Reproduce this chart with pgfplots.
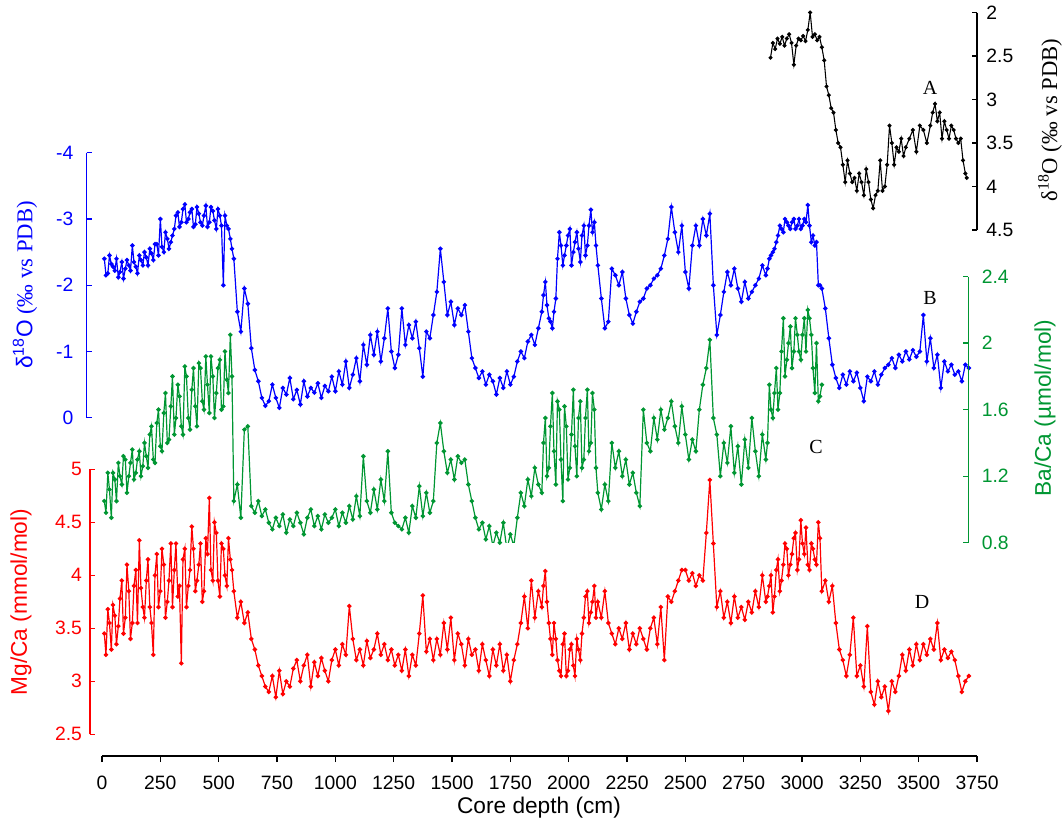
\documentclass[border=0pt]{standalone}
\usepackage{fontspec}
\setmainfont{Liberation Serif}
\setsansfont{Liberation Sans}
\usepackage{pgfplots}
\usepackage{pgfplotstable}
\pgfplotsset{compat=1.18}
\definecolor{cblue}{RGB}{0,0,255}
\definecolor{cgreen}{RGB}{0,150,50}
\definecolor{cred}{RGB}{255,0,0}

\pgfplotstableread{
d b g r
10 -2.40 1.05 3.45
17 -2.15 0.98 3.25
25 -2.18 1.22 3.68
32 -2.45 1.12 3.55
40 -2.32 0.95 3.30
47 -2.28 1.22 3.72
55 -2.22 1.18 3.62
62 -2.40 1.05 3.35
70 -2.12 1.28 3.52
77 -2.20 1.20 3.78
85 -2.35 1.15 3.95
92 -2.10 1.32 3.45
100 -2.25 1.30 3.60
107 -2.38 1.10 4.10
115 -2.30 1.20 3.85
122 -2.22 1.28 3.40
130 -2.60 1.36 3.55
137 -2.35 1.18 3.90
145 -2.28 1.22 4.05
152 -2.18 1.30 3.55
160 -2.45 1.35 4.33
167 -2.38 1.20 3.88
175 -2.30 1.26 3.70
182 -2.50 1.40 3.60
190 -2.42 1.32 3.95
197 -2.30 1.25 4.15
205 -2.55 1.45 3.70
212 -2.48 1.50 3.55
220 -2.38 1.30 3.25
227 -2.62 1.28 4.00
235 -2.62 1.52 4.20
242 -2.45 1.60 3.70
250 -3.00 1.38 3.85
257 -2.58 1.35 4.25
265 -2.50 1.58 4.10
272 -2.80 1.70 3.60
280 -2.70 1.40 3.75
287 -2.55 1.42 3.95
295 -2.65 1.62 4.30
302 -2.75 1.80 3.70
310 -2.85 1.45 4.05
317 -3.05 1.55 4.30
325 -3.10 1.75 3.80
332 -2.88 1.68 3.90
340 -2.95 1.50 3.17
347 -3.15 1.45 4.15
355 -3.22 1.86 4.25
362 -2.95 1.80 3.70
370 -3.00 1.55 3.90
377 -3.10 1.48 4.05
385 -3.15 1.72 4.46
392 -2.88 1.85 4.25
400 -2.92 1.62 3.85
407 -3.18 1.50 3.95
415 -3.08 1.88 4.10
422 -2.95 1.85 4.30
430 -2.90 1.65 3.75
437 -3.05 1.60 3.85
445 -3.20 1.92 4.35
452 -2.88 1.75 4.20
460 -2.95 1.58 4.73
467 -3.18 1.92 4.05
475 -3.12 1.80 3.95
482 -2.98 1.55 4.50
490 -2.85 1.70 4.40
497 -3.15 1.85 3.95
505 -3.05 1.90 3.80
512 -2.90 1.60 4.30
520 -2.00 1.62 4.25
527 -3.05 1.95 4.00
535 -2.90 1.78 3.90
542 -2.85 1.70 4.35
550 -2.70 2.05 4.15
557 -2.55 1.80 4.05
565 -2.40 1.05 3.85
580 -1.60 1.15 3.60
595 -1.30 0.95 3.75
610 -1.95 1.48 3.55
625 -1.72 1.50 3.65
640 -1.05 1.02 3.40
655 -0.72 0.98 3.30
670 -0.55 1.05 3.15
685 -0.30 0.96 3.05
700 -0.18 1.00 2.95
715 -0.25 0.92 2.90
730 -0.50 0.88 3.05
745 -0.30 0.95 2.85
760 -0.15 0.90 3.10
775 -0.45 0.97 2.88
790 -0.35 0.86 3.00
805 -0.60 0.94 2.95
820 -0.28 0.90 3.12
835 -0.42 0.98 3.20
850 -0.20 0.92 3.00
865 -0.55 0.85 3.15
880 -0.32 0.95 3.25
895 -0.45 1.00 2.95
910 -0.38 0.90 3.18
925 -0.52 0.96 3.05
940 -0.30 0.88 3.22
955 -0.48 0.97 3.10
970 -0.40 0.92 3.00
985 -0.62 0.95 3.20
1000 -0.40 1.00 3.30
1015 -0.70 0.90 3.15
1030 -0.50 0.98 3.35
1045 -0.85 0.92 3.25
1060 -0.45 1.02 3.71
1075 -0.65 0.94 3.40
1090 -0.90 1.08 3.20
1105 -0.55 0.96 3.30
1120 -1.10 1.32 3.15
1135 -0.80 1.05 3.38
1150 -1.25 0.98 3.22
1165 -0.95 1.12 3.30
1180 -1.30 1.00 3.45
1195 -0.85 1.18 3.25
1210 -1.20 1.05 3.35
1225 -1.65 1.35 3.20
1240 -1.00 0.98 3.30
1255 -0.75 0.92 3.15
1270 -0.95 0.90 3.25
1285 -1.65 0.88 3.10
1300 -1.10 0.95 3.30
1315 -1.40 0.86 3.05
1330 -1.20 1.02 3.25
1345 -1.45 0.95 3.15
1360 -1.05 1.14 3.45
1375 -0.62 0.96 3.81
1390 -1.30 1.10 3.28
1405 -1.20 0.98 3.40
1420 -1.55 1.05 3.20
1435 -1.90 1.40 3.40
1450 -2.55 1.52 3.25
1465 -2.05 1.35 3.55
1480 -1.55 1.22 3.30
1495 -1.75 1.30 3.60
1510 -1.40 1.18 3.20
1525 -1.65 1.32 3.45
1540 -1.55 1.28 3.35
1555 -1.70 1.30 3.15
1570 -1.30 1.15 3.40
1585 -0.90 1.05 3.25
1600 -0.75 0.95 3.30
1615 -0.60 0.88 3.10
1630 -0.70 0.92 3.35
1645 -0.50 0.82 3.20
1660 -0.65 0.90 3.05
1675 -0.55 0.78 3.30
1690 -0.35 0.86 3.15
1705 -0.60 0.80 3.35
1720 -0.45 0.92 3.10
1735 -0.70 0.76 3.25
1750 -0.50 0.85 3.00
1765 -0.62 0.78 3.20
1780 -0.85 0.95 3.35
1795 -1.00 1.10 3.55
1810 -0.90 1.02 3.80
1825 -1.15 1.18 3.50
1840 -1.25 1.08 3.95
1855 -1.10 1.25 3.60
1870 -1.35 1.15 3.85
1885 -1.60 1.10 3.70
1892 -1.85 1.40 3.90
1900 -2.05 1.55 4.04
1907 -1.70 1.20 3.75
1915 -1.50 1.25 3.55
1922 -1.45 1.50 3.40
1930 -1.35 1.70 3.25
1937 -1.60 1.35 3.55
1945 -1.80 1.15 3.40
1952 -2.40 1.65 3.20
1960 -2.80 1.60 3.10
1967 -2.60 1.30 3.05
1975 -2.30 1.05 3.35
1982 -2.45 1.62 3.45
1990 -2.60 1.50 3.05
1997 -2.75 1.18 3.10
2005 -2.85 1.25 3.30
2012 -2.30 1.45 3.35
2020 -2.50 1.72 3.15
2027 -2.65 1.38 3.05
2035 -2.80 1.20 3.40
2042 -2.55 1.55 3.30
2050 -2.35 1.65 3.20
2057 -2.75 1.25 3.45
2065 -2.90 1.30 3.60
2072 -2.45 1.55 3.80
2080 -2.60 1.72 3.85
2087 -2.90 1.35 3.55
2095 -3.14 1.40 3.65
2102 -2.80 1.70 3.75
2110 -2.95 1.60 3.90
2117 -2.60 1.25 3.60
2125 -2.30 1.10 3.75
2140 -1.80 1.00 3.60
2155 -1.35 1.15 3.85
2170 -1.45 1.05 3.55
2185 -2.25 1.40 3.45
2200 -2.15 1.25 3.35
2215 -2.00 1.35 3.50
2230 -2.20 1.20 3.40
2245 -1.80 1.30 3.55
2260 -1.55 1.15 3.30
2275 -1.42 1.22 3.45
2290 -1.60 1.10 3.35
2305 -1.75 1.02 3.50
2320 -1.80 1.60 3.40
2335 -1.95 1.40 3.30
2350 -2.00 1.35 3.50
2365 -2.10 1.55 3.60
2380 -2.15 1.42 3.35
2395 -2.25 1.60 3.70
2410 -2.45 1.48 3.20
2425 -2.70 1.55 3.80
2440 -3.18 1.65 3.75
2455 -2.80 1.50 3.85
2470 -2.50 1.40 3.95
2485 -2.90 1.62 4.05
2500 -2.20 1.45 4.05
2515 -1.95 1.30 3.95
2530 -2.60 1.42 4.02
2545 -2.90 1.35 3.90
2560 -2.60 1.60 4.00
2575 -3.00 1.75 3.95
2590 -2.75 1.85 4.40
2605 -3.08 2.02 4.90
2620 -2.00 1.55 4.30
2635 -1.25 1.45 3.70
2650 -1.55 1.20 3.85
2665 -1.90 1.40 3.60
2680 -2.20 1.28 3.75
2695 -2.00 1.50 3.55
2710 -2.25 1.22 3.80
2725 -1.95 1.38 3.60
2740 -1.75 1.15 3.70
2755 -2.05 1.42 3.58
2770 -1.80 1.25 3.75
2785 -1.90 1.55 3.65
2800 -2.00 1.35 3.85
2815 -2.10 1.20 3.70
2830 -2.30 1.45 4.00
2845 -2.15 1.30 3.75
2852 -2.25 1.40 3.80
2860 -2.40 1.75 3.90
2867 -2.45 1.60 4.00
2875 -2.50 1.55 3.65
2882 -2.55 1.70 3.80
2890 -2.65 1.85 4.05
2897 -2.75 1.60 4.15
2905 -2.90 1.70 3.85
2912 -2.85 1.95 3.95
2920 -2.80 2.15 4.10
2927 -3.00 1.80 4.30
2935 -2.95 1.90 4.25
2942 -2.90 2.00 4.00
2950 -2.85 2.10 4.10
2957 -2.95 1.85 4.20
2965 -3.00 1.95 4.35
2972 -2.85 2.15 4.40
2980 -2.90 2.05 4.05
2987 -3.00 1.95 4.15
2995 -2.85 1.90 4.52
3002 -2.90 2.05 4.30
3010 -3.00 2.15 4.20
3017 -2.95 1.95 4.45
3025 -3.21 2.20 4.10
3032 -2.90 2.15 4.05
3040 -2.65 2.05 4.30
3047 -2.75 1.85 4.25
3055 -2.60 1.70 4.15
3062 -2.65 2.00 4.10
3070 -2.00 1.65 4.50
3077 -2.00 1.68 4.35
3085 -1.95 1.75 3.85
3100 -1.65 nan 3.95
3115 -1.20 nan 3.75
3130 -0.80 nan 3.90
3145 -0.60 nan 3.55
3160 -0.45 nan 3.30
3175 -0.65 nan 3.20
3190 -0.50 nan 3.05
3205 -0.70 nan 3.25
3220 -0.55 nan 3.60
3235 -0.68 nan 3.05
3250 -0.45 nan 3.15
3265 -0.25 nan 2.95
3280 -0.62 nan 3.52
3295 -0.55 nan 2.90
3310 -0.70 nan 2.78
3325 -0.50 nan 3.00
3340 -0.65 nan 2.85
3355 -0.75 nan 2.95
3370 -0.80 nan 2.72
3385 -0.90 nan 3.00
3400 -0.75 nan 2.90
3415 -0.95 nan 3.05
3430 -0.85 nan 3.25
3445 -1.00 nan 3.10
3460 -0.88 nan 3.30
3475 -1.02 nan 3.15
3490 -0.92 nan 3.35
3505 -1.00 nan 3.20
3520 -1.55 nan 3.35
3535 -0.85 nan 3.25
3550 -1.20 nan 3.40
3565 -0.75 nan 3.30
3580 -0.95 nan 3.55
3595 -0.45 nan 3.20
3610 -0.85 nan 3.30
3625 -0.70 nan 3.22
3640 -0.80 nan 3.28
3655 -0.65 nan 3.20
3670 -0.70 nan 3.05
3685 -0.55 nan 2.90
3700 -0.80 nan 3.00
3715 -0.75 nan 3.05
}\maintab

\pgfplotstableread{
d o
2865 2.52
2875 2.35
2885 2.42
2895 2.30
2905 2.36
2915 2.28
2925 2.38
2935 2.30
2945 2.25
2955 2.35
2965 2.60
2975 2.38
2985 2.30
2995 2.32
3005 2.27
3015 2.33
3025 2.20
3035 2.00
3045 2.28
3055 2.25
3065 2.32
3075 2.28
3085 2.40
3095 2.55
3105 2.85
3115 2.95
3125 3.10
3135 3.15
3145 3.35
3155 3.50
3165 3.55
3175 3.75
3185 3.95
3195 3.70
3205 3.85
3215 3.95
3225 3.90
3235 4.05
3245 3.85
3255 3.95
3265 4.10
3275 3.80
3285 3.95
3295 4.15
3305 4.25
3315 4.10
3325 4.05
3335 3.70
3345 4.05
3355 4.00
3365 3.75
3375 3.30
3385 3.50
3395 3.75
3405 3.55
3415 3.60
3425 3.45
3435 3.65
3445 3.55
3460 3.45
3475 3.35
3490 3.60
3505 3.30
3520 3.35
3535 3.50
3550 3.30
3560 3.15
3570 3.05
3580 3.25
3590 3.15
3600 3.45
3610 3.25
3620 3.35
3630 3.45
3640 3.30
3650 3.35
3660 3.45
3670 3.50
3680 3.45
3690 3.70
3700 3.85
3706 3.90
}\blacktab

\pgfplotsset{
  base/.style={
    x=0.175pt,
    axis x line=none,
    xtick=\empty,
    axis line style={line width=1pt,-},
    tick align=inside,
    major tick length=3.75pt,
    tick label style={font=\sffamily\fontsize{14.5}{16}\selectfont},
    /pgf/number format/assume math mode=true,
    anchor=south west,
  },
  ser/.style={line width=0.9pt, mark=*, mark size=1.2pt},
}

\begin{document}
\begin{tikzpicture}
\path[use as bounding box] (0,0) rectangle (797.25pt,619.5pt);

% A: black
\begin{axis}[base, at={(76.5pt,447pt)}, xmin=0, xmax=3750,
  ymin=2, ymax=4.5, y=65.25pt, y dir=reverse, axis y line*=right,
  axis line style={black}, tick style={line width=1pt,black},
  ytick={2,2.5,3,3.5,4,4.5}, yticklabels={2,2.5,3,3.5,4,4.5},
  yticklabel style={xshift=3.5pt}]
\addplot[ser, black, line width=0.8pt, mark size=1.1pt] table[x=d,y=o]{\blacktab};
\end{axis}

% B: blue
\begin{axis}[base, at={(65.03pt,306.2pt)}, xmin=-65.6, xmax=3750,
  ymin=-4, ymax=0, y=49.69pt, y dir=reverse, axis y line*=left,
  axis line style={cblue}, tick style={line width=1pt,cblue},
  ytick={-4,-3,-2,-1,0}, yticklabels={-4,-3,-2,-1,0},
  yticklabel style={text=cblue, xshift=-6.5pt}]
\addplot[ser, cblue] table[x=d,y=b]{\maintab};
\end{axis}

% C: green
\begin{axis}[base, at={(76.5pt,212.5pt)}, xmin=0, xmax=3713,
  ymin=0.8, ymax=2.4, y=124.69pt, axis y line*=right,
  axis line style={cgreen}, tick style={line width=1pt,cgreen},
  ytick={0.8,1.2,1.6,2,2.4}, yticklabels={0.8,1.2,1.6,2,2.4},
  yticklabel style={text=cgreen, xshift=6.5pt}]
\addplot[ser, cgreen] table[x=d,y=g]{\maintab};
\end{axis}

% D: red
\begin{axis}[base, at={(67.5pt,68.78pt)}, xmin=-51.4, xmax=3750,
  ymin=2.5, ymax=5, y=79.5pt, axis y line*=left,
  axis line style={cred}, tick style={line width=1pt,cred},
  ytick={2.5,3,3.5,4,4.5,5}, yticklabels={2.5,3,3.5,4,4.5,5},
  yticklabel style={text=cred, xshift=-2.5pt}]
\addplot[ser, cred] table[x=d,y=r]{\maintab};
\end{axis}

% x axis
\begin{axis}[at={(76.5pt,52.5pt)}, anchor=south west, x=0.175pt, y=10pt,
  xmin=0, xmax=3750, ymin=0, ymax=1,
  axis y line=none, axis x line*=bottom,
  axis line style={line width=1pt,-}, tick align=outside,
  major tick length=4.5pt, tick style={line width=1pt,black},
  xtick={0,250,...,3750},
  tick label style={font=\sffamily\fontsize{14.5}{16}\selectfont},
  /pgf/number format/assume math mode=true,
  /pgf/number format/1000 sep={},
  xticklabel style={yshift=-7pt}]
\end{axis}

\node[rotate=90, font=\fontsize{17}{20}\selectfont] at (787.5pt,529.5pt) {δ\textsuperscript{18}O (‰ vs PDB)};
\node[rotate=90, font=\fontsize{17}{20}\selectfont, text=cblue] at (18.75pt,405.75pt) {{\sffamily δ\textsuperscript{18}O} (‰ vs PDB)};
\node[rotate=90, font=\sffamily\fontsize{17}{20}\selectfont, text=cgreen] at (783.75pt,313.5pt) {Ba/Ca (µmol/mol)};
\node[rotate=90, font=\sffamily\fontsize{17}{20}\selectfont, text=cred] at (15.75pt,168pt) {Mg/Ca (mmol/mol)};
\node[font=\sffamily\fontsize{17}{20}\selectfont] at (404.25pt,13.5pt) {Core depth (cm)};
\node[font=\fontsize{15}{18}\selectfont] at (697.5pt,553.5pt) {A};
\node[font=\fontsize{15}{18}\selectfont] at (697.5pt,396pt) {B};
\node[font=\fontsize{15}{18}\selectfont] at (612pt,284.25pt) {C};
\node[font=\fontsize{15}{18}\selectfont] at (691.5pt,168pt) {D};
\end{tikzpicture}
\end{document}
